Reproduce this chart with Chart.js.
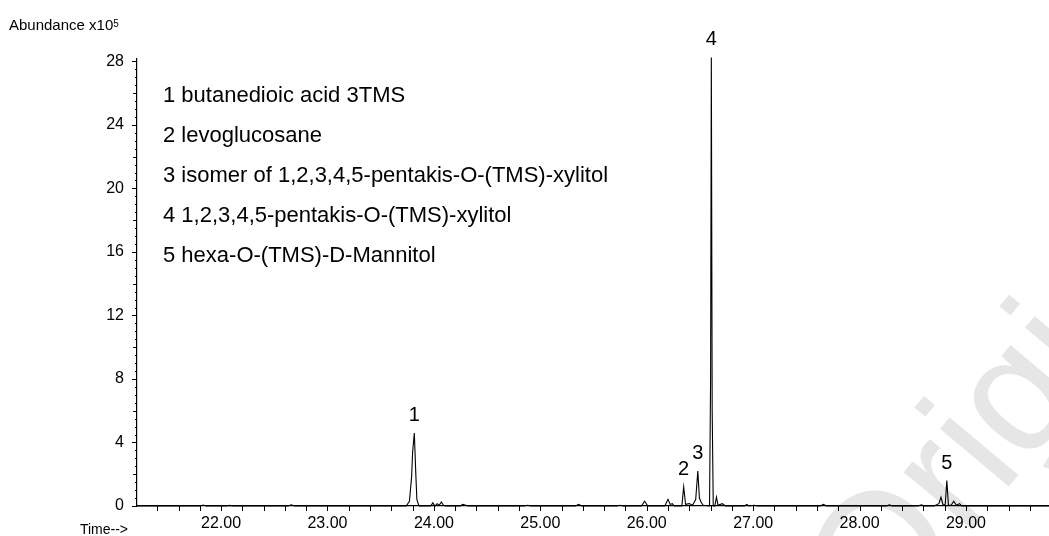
<!DOCTYPE html>
<html lang="en">
<head>
<meta charset="UTF-8">
<title>TIC chromatogram</title>
<script src="https://cdn.jsdelivr.net/npm/chart.js"></script>
<style>
  html, body { margin: 0; padding: 0; background: #fff; }
  .wrap {
    position: relative;
    width: 1049px;
    height: 536px;
    overflow: hidden;
    font-family: "Liberation Sans", Arial, sans-serif;
    color: #000;
  }
  .wrap canvas { position: absolute; left: 0; top: 0; }
  .stamp {
    position: absolute;
    left: 880px;
    top: 496px;
    font-size: 170px;
    line-height: 170px;
    color: #e6e6e6;
    white-space: nowrap;
    transform-origin: 0 144px;
    transform: rotate(-50deg);
  }
  .ylab { position: absolute; left: 9px; top: 17px; font-size: 15px; line-height: 15px; white-space: nowrap; }
  .ylab span { font-size: 10px; position: relative; top: -3px; }
  .xlab { position: absolute; right: 921px; top: 522px; font-size: 14px; line-height: 14px; white-space: nowrap; }
  .key { position: absolute; left: 163px; top: 75px; font-size: 22px; line-height: 40px; white-space: nowrap; }
</style>
</head>
<body>
<div class="wrap">
  <div class="stamp">Original</div>
  <canvas id="tic" width="1049" height="536"></canvas>
  <div class="ylab">Abundance x10<span>5</span></div>
  <div class="xlab">Time--&gt;</div>
  <div class="key" id="key"></div>
</div>
<script>
// retention time (min) and abundance (x10^5) of the total ion trace
const times = [
  21.21, 21.80, 21.83, 21.86, 22.05, 22.08, 22.11, 22.63, 22.66, 22.69,
  23.74, 23.77, 23.79, 23.80, 23.816, 23.83, 23.84, 23.86,
  23.97, 23.99, 24.01, 24.03, 24.05, 24.07, 24.09, 24.11,
  24.25, 24.27, 24.30, 24.32, 24.85, 24.88, 24.91, 25.33, 25.36, 25.39,
  25.72, 25.75, 25.78, 25.95, 25.98, 26.01,
  26.17, 26.20, 26.22, 26.24, 26.26,
  26.33, 26.347, 26.365, 26.40, 26.43, 26.46, 26.48, 26.495, 26.51, 26.53,
  26.59, 26.60, 26.607, 26.615, 26.625, 26.64, 26.655, 26.67, 26.71, 26.74,
  26.92, 26.94, 26.96, 27.01, 27.04,
  27.63, 27.66, 27.69, 28.25, 28.28, 28.31, 28.55, 28.58, 28.61,
  28.70, 28.745, 28.765, 28.785, 28.805, 28.82, 28.835, 28.86, 28.885, 28.91, 28.94, 28.96,
  29.78
];
const abundance = [
  0, 0, 0.06, 0, 0, 0.04, 0, 0, 0.08, 0,
  0, 0.3, 1.8, 3.4, 4.6, 2.0, 0.4, 0,
  0, 0.2, 0, 0.15, 0.05, 0.25, 0.05, 0,
  0, 0.1, 0.05, 0, 0, 0.05, 0, 0, 0.1, 0,
  0, 0.05, 0, 0, 0.3, 0,
  0, 0.42, 0.1, 0.15, 0,
  0, 1.2, 0.1, 0.15, 0.05, 0.4, 2.2, 0.5, 0.25, 0.05,
  0, 8, 28.25, 6, 0, 0, 0.55, 0.05, 0.15, 0,
  0, 0.1, 0, 0.05, 0,
  0, 0.1, 0, 0, 0.07, 0, 0, 0.07, 0,
  0, 0.15, 0.55, 0.05, 0.1, 1.6, 0.05, 0.05, 0.3, 0.05, 0.15, 0,
  0
];

// numbered peaks and their compounds
const peakNumbers = ['1', '2', '3', '4', '5'];
const peakTimes = [23.816, 26.347, 26.48, 26.607, 28.82];
const compounds = [
  'butanedioic acid 3TMS',
  'levoglucosane',
  'isomer of 1,2,3,4,5-pentakis-O-(TMS)-xylitol',
  '1,2,3,4,5-pentakis-O-(TMS)-xylitol',
  'hexa-O-(TMS)-D-Mannitol'
];

const xMin = 21.21, xMax = 29.78;
const yMin = 0, yMax = 28.15;
const FONT = '"Liberation Sans", Arial, sans-serif';

document.getElementById('key').innerHTML =
  compounds.map((c, i) => `<div>${peakNumbers[i]} ${c}</div>`).join('');

const isMultiple = (v, m) => Math.abs(v / m - Math.round(v / m)) < 1e-6;

// tick marks of different lengths, pointing outwards
const tickMarks = {
  id: 'tickMarks',
  afterDraw(chart) {
    const ctx = chart.ctx;
    const xs = chart.scales.x, ys = chart.scales.y;
    ctx.save();
    ctx.strokeStyle = '#000';
    ctx.lineWidth = 1;
    ctx.beginPath();
    xs.ticks.forEach(t => {
      const px = Math.round(xs.getPixelForValue(t.value)) + 0.5;
      ctx.moveTo(px, xs.top);
      ctx.lineTo(px, xs.top + 5);
    });
    ys.ticks.forEach(t => {
      const py = Math.round(ys.getPixelForValue(t.value)) + 0.5;
      const len = isMultiple(t.value, 4) ? 5 : isMultiple(t.value, 2) ? 4 : 2;
      ctx.moveTo(ys.right - len, py);
      ctx.lineTo(ys.right, py);
    });
    ctx.stroke();
    ctx.restore();
  }
};

// peak numbers above each apex
const peakLabels = {
  id: 'peakLabels',
  afterDatasetsDraw(chart) {
    const ctx = chart.ctx;
    const xs = chart.scales.x, ys = chart.scales.y;
    ctx.save();
    ctx.fillStyle = '#000';
    ctx.font = '20px ' + FONT;
    ctx.textAlign = 'center';
    ctx.textBaseline = 'alphabetic';
    peakTimes.forEach((t, i) => {
      const idx = times.indexOf(t);
      const px = xs.getPixelForValue(t);
      const py = ys.getPixelForValue(abundance[idx]);
      ctx.fillText(peakNumbers[i], px, py - 12);
    });
    ctx.restore();
  }
};

new Chart(document.getElementById('tic'), {
  type: 'line',
  data: {
    datasets: [{
      data: times.map((t, i) => ({ x: t, y: abundance[i] })),
      borderColor: '#000',
      borderWidth: 1.1,
      pointRadius: 0,
      tension: 0,
      fill: false,
      clip: false
    }]
  },
  options: {
    responsive: false,
    animation: false,
    layout: { padding: { top: 59, left: 0, right: 0, bottom: 0 } },
    plugins: { legend: { display: false }, tooltip: { enabled: false } },
    scales: {
      x: {
        type: 'linear',
        min: xMin,
        max: xMax,
        border: { color: '#000', width: 1.2 },
        grid: { display: true, drawOnChartArea: false, drawTicks: false },
        ticks: {
          stepSize: 0.2,
          maxTicksLimit: 1000,
          includeBounds: false,
          autoSkip: false,
          maxRotation: 0,
          padding: 8,
          color: '#000',
          font: { family: FONT, size: 16 },
          callback: v => isMultiple(v, 1) ? v.toFixed(2) : ''
        },
        afterFit: s => { s.height = 30; }
      },
      y: {
        min: yMin,
        max: yMax,
        border: { color: '#000', width: 1.2 },
        grid: { display: true, drawOnChartArea: false, drawTicks: false },
        ticks: {
          stepSize: 0.5,
          maxTicksLimit: 1000,
          includeBounds: false,
          autoSkip: false,
          padding: 13,
          color: '#000',
          font: { family: FONT, size: 16 },
          callback: v => isMultiple(v, 4) ? String(Math.round(v)) : ''
        },
        afterFit: s => { s.width = 137; }
      }
    }
  },
  plugins: [tickMarks, peakLabels]
});
</script>
</body>
</html>
